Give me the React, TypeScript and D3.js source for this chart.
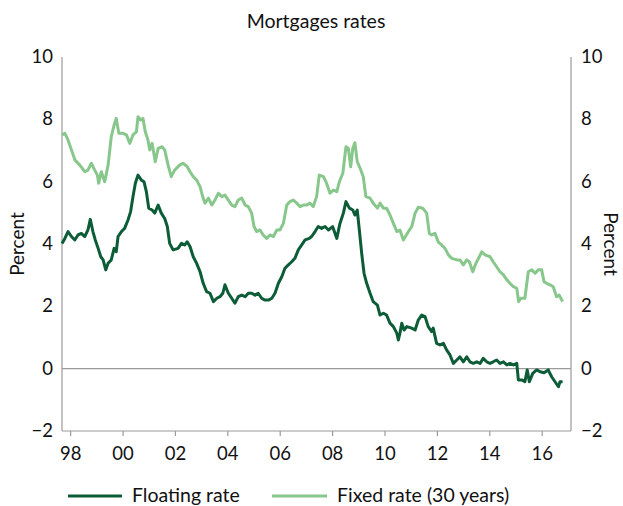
import React from "react";
import * as d3 from "d3";

// Decimal year, percent
const floatingYears = [1997.67,1997.78,1997.9,1998.03,1998.16,1998.28,1998.41,1998.54,1998.66,1998.75,1998.85,1998.94,1999.05,1999.15,1999.24,1999.34,1999.43,1999.55,1999.66,1999.74,1999.81,1999.94,2000.06,2000.19,2000.29,2000.38,2000.47,2000.57,2000.7,2000.8,2000.89,2000.98,2001.11,2001.21,2001.34,2001.46,2001.59,2001.69,2001.78,2001.91,2002.1,2002.23,2002.35,2002.45,2002.56,2002.68,2002.81,2002.94,2003.06,2003.19,2003.32,2003.45,2003.58,2003.7,2003.81,2003.89,2004.02,2004.15,2004.27,2004.4,2004.53,2004.66,2004.78,2004.91,2005.04,2005.16,2005.29,2005.42,2005.55,2005.68,2005.8,2005.93,2006.06,2006.18,2006.31,2006.44,2006.56,2006.69,2006.82,2006.95,2007.11,2007.2,2007.33,2007.45,2007.58,2007.71,2007.84,2008.0,2008.16,2008.28,2008.41,2008.51,2008.64,2008.77,2008.85,2008.94,2009.02,2009.11,2009.2,2009.3,2009.43,2009.55,2009.71,2009.81,2009.94,2010.06,2010.19,2010.32,2010.45,2010.51,2010.57,2010.64,2010.73,2010.83,2011.02,2011.15,2011.27,2011.4,2011.53,2011.65,2011.78,2011.84,2011.97,2012.1,2012.23,2012.35,2012.48,2012.61,2012.74,2012.86,2012.99,2013.12,2013.24,2013.37,2013.5,2013.63,2013.75,2013.88,2014.01,2014.13,2014.26,2014.39,2014.52,2014.65,2014.77,2014.9,2015.03,2015.09,2015.22,2015.34,2015.43,2015.51,2015.64,2015.79,2015.92,2016.07,2016.23,2016.36,2016.49,2016.62,2016.68,2016.78];
const floatingValues = [4.02,4.18,4.4,4.24,4.13,4.29,4.34,4.24,4.45,4.79,4.4,4.13,3.86,3.59,3.49,3.17,3.38,3.49,3.86,3.75,4.24,4.4,4.5,4.77,5.04,5.52,5.95,6.21,6.05,6.0,5.68,5.15,5.09,4.99,5.25,4.99,4.82,4.56,4.02,3.81,3.86,4.02,3.97,4.07,3.91,3.59,3.38,3.11,2.74,2.47,2.42,2.15,2.26,2.31,2.42,2.69,2.42,2.26,2.1,2.31,2.36,2.31,2.42,2.42,2.36,2.42,2.26,2.2,2.2,2.26,2.42,2.74,2.95,3.22,3.33,3.43,3.54,3.81,3.97,4.13,4.18,4.24,4.4,4.56,4.5,4.56,4.45,4.56,4.18,4.66,4.99,5.36,5.15,5.09,4.93,5.09,4.45,3.7,3.06,2.74,2.42,2.15,2.04,1.72,1.78,1.72,1.46,1.35,1.14,0.92,1.14,1.46,1.24,1.35,1.3,1.24,1.56,1.72,1.67,1.35,1.19,1.3,0.81,0.76,0.81,0.6,0.44,0.17,0.28,0.38,0.22,0.38,0.22,0.17,0.22,0.17,0.33,0.22,0.17,0.22,0.28,0.17,0.22,0.12,0.17,0.12,0.17,-0.36,-0.36,-0.42,-0.04,-0.42,-0.15,-0.04,-0.1,-0.13,-0.04,-0.26,-0.42,-0.58,-0.42,-0.42];

const fixedYears = [1997.67,1997.78,1997.9,1998.03,1998.16,1998.35,1998.54,1998.66,1998.79,1998.92,1999.02,1999.07,1999.17,1999.3,1999.43,1999.55,1999.66,1999.74,1999.84,2000.0,2000.13,2000.26,2000.38,2000.51,2000.57,2000.68,2000.76,2000.85,2000.95,2001.02,2001.11,2001.23,2001.34,2001.49,2001.59,2001.72,2001.84,2001.97,2002.16,2002.29,2002.45,2002.56,2002.68,2002.81,2002.94,2003.04,2003.13,2003.26,2003.39,2003.51,2003.64,2003.77,2003.89,2004.02,2004.15,2004.27,2004.4,2004.53,2004.66,2004.78,2004.91,2005.0,2005.1,2005.23,2005.35,2005.48,2005.61,2005.74,2005.87,2005.99,2006.12,2006.25,2006.37,2006.5,2006.63,2006.76,2006.88,2007.01,2007.14,2007.26,2007.39,2007.49,2007.65,2007.77,2007.9,2008.03,2008.16,2008.26,2008.39,2008.51,2008.6,2008.69,2008.77,2008.85,2008.94,2009.05,2009.17,2009.27,2009.43,2009.55,2009.71,2009.81,2009.94,2010.06,2010.19,2010.32,2010.45,2010.57,2010.7,2010.85,2011.02,2011.15,2011.27,2011.44,2011.59,2011.69,2011.78,2011.91,2012.03,2012.16,2012.29,2012.42,2012.55,2012.74,2012.86,2012.99,2013.12,2013.22,2013.35,2013.47,2013.6,2013.69,2013.82,2014.01,2014.13,2014.26,2014.39,2014.52,2014.65,2014.77,2014.9,2015.03,2015.1,2015.18,2015.34,2015.47,2015.6,2015.73,2015.85,2015.98,2016.07,2016.17,2016.3,2016.42,2016.55,2016.65,2016.78];
const fixedValues = [7.5,7.55,7.34,7.02,6.7,6.53,6.32,6.37,6.59,6.37,6.21,5.95,6.32,6.0,6.53,7.44,7.82,8.03,7.55,7.55,7.5,7.23,7.5,7.6,8.08,7.98,8.03,7.6,7.34,7.02,7.23,6.64,7.07,7.12,7.02,6.53,6.16,6.37,6.53,6.59,6.48,6.32,6.16,6.05,5.84,5.52,5.31,5.47,5.25,5.41,5.63,5.52,5.57,5.41,5.25,5.2,5.41,5.47,5.25,5.2,4.99,4.56,4.4,4.45,4.29,4.18,4.29,4.24,4.45,4.45,4.66,5.25,5.36,5.41,5.31,5.2,5.25,5.25,5.31,5.2,5.52,6.21,6.16,5.95,5.63,5.73,5.68,6.0,6.27,7.12,7.07,6.48,7.07,7.25,6.64,6.43,6.16,5.52,5.47,5.31,5.15,5.31,5.15,5.15,4.93,4.66,4.4,4.45,4.13,4.34,4.56,4.99,5.18,5.15,4.99,4.34,4.29,4.34,4.07,3.97,3.86,3.65,3.54,3.49,3.49,3.33,3.49,3.43,3.11,3.38,3.59,3.75,3.65,3.59,3.43,3.27,3.11,3.01,2.85,2.74,2.63,2.58,2.15,2.26,2.26,3.11,3.17,3.06,3.17,3.17,2.79,2.74,2.69,2.63,2.31,2.36,2.15];

const xTickYears = [1998, 2000, 2002, 2004, 2006, 2008, 2010, 2012, 2014, 2016];
const yTicks = [-2, 0, 2, 4, 6, 8, 10];

const DARK = "#0c5c37";
const LIGHT = "#88c78b";
const AXIS = "#9a9a9a";
const FONT = "Lato, 'Open Sans', sans-serif";

export default function App() {
  const W = 623, H = 506;
  const left = 62, right = 571, top = 57, bottom = 431;
  const x = d3.scaleLinear().domain([1997.67, 2017.1]).range([left, right]);
  const y = d3.scaleLinear().domain([-2, 10]).range([bottom, top]);
  const line = d3.line<[number, number]>().x(d => x(d[0])).y(d => y(d[1])).curve(d3.curveLinear);
  const floating = floatingYears.map((t, i) => [t, floatingValues[i]] as [number, number]);
  const fixed = fixedYears.map((t, i) => [t, fixedValues[i]] as [number, number]);
  const fmt = (v: number) => (v < 0 ? "\u2212" + Math.abs(v) : String(v));

  return (
    <svg width={W} height={H} style={{ position: "absolute", left: 0, top: 0, background: "#fff" }} fontFamily={FONT}>
      <text x={316} y={28} textAnchor="middle" fontSize={19.5} fill="#111">Mortgages rates</text>

      {/* axes */}
      <line x1={left} x2={left} y1={top} y2={bottom} stroke={AXIS} strokeWidth={1.2} />
      <line x1={right} x2={right} y1={top} y2={bottom} stroke={AXIS} strokeWidth={1.2} />
      <line x1={left} x2={right} y1={bottom} y2={bottom} stroke={AXIS} strokeWidth={1.2} />
      <line x1={left} x2={right} y1={y(0)} y2={y(0)} stroke={AXIS} strokeWidth={1.2} />

      {xTickYears.map(t => (
        <g key={t}>
          <line x1={x(t)} x2={x(t)} y1={bottom} y2={bottom + 5} stroke={AXIS} strokeWidth={1.2} />
          <text x={x(t)} y={bottom + 29} textAnchor="middle" fontSize={18.5} fill="#111">
            {String(t % 100).padStart(2, "0")}
          </text>
        </g>
      ))}

      {yTicks.map(v => (
        <g key={v}>
          <text x={53} y={y(v) + 6} textAnchor="end" fontSize={18.5} fill="#111">{fmt(v)}</text>
          <text x={581} y={y(v) + 6} textAnchor="start" fontSize={18.5} fill="#111">{fmt(v)}</text>
        </g>
      ))}

      <text transform={`translate(24, ${(top + bottom) / 2}) rotate(-90)`} textAnchor="middle" fontSize={19} fill="#111">Percent</text>
      <text transform={`translate(604, ${(top + bottom) / 2}) rotate(90)`} textAnchor="middle" fontSize={19} fill="#111">Percent</text>

      <path d={line(fixed) || ""} fill="none" stroke={LIGHT} strokeWidth={3} strokeLinejoin="round" />
      <path d={line(floating) || ""} fill="none" stroke={DARK} strokeWidth={3} strokeLinejoin="round" />

      {/* legend */}
      <line x1={68} x2={122} y1={496} y2={496} stroke={DARK} strokeWidth={3} />
      <text x={132} y={502} fontSize={19.5} fill="#111">Floating rate</text>
      <line x1={272} x2={327} y1={496} y2={496} stroke={LIGHT} strokeWidth={3} />
      <text x={337} y={502} fontSize={19.5} fill="#111">Fixed rate (30 years)</text>
    </svg>
  );
}
